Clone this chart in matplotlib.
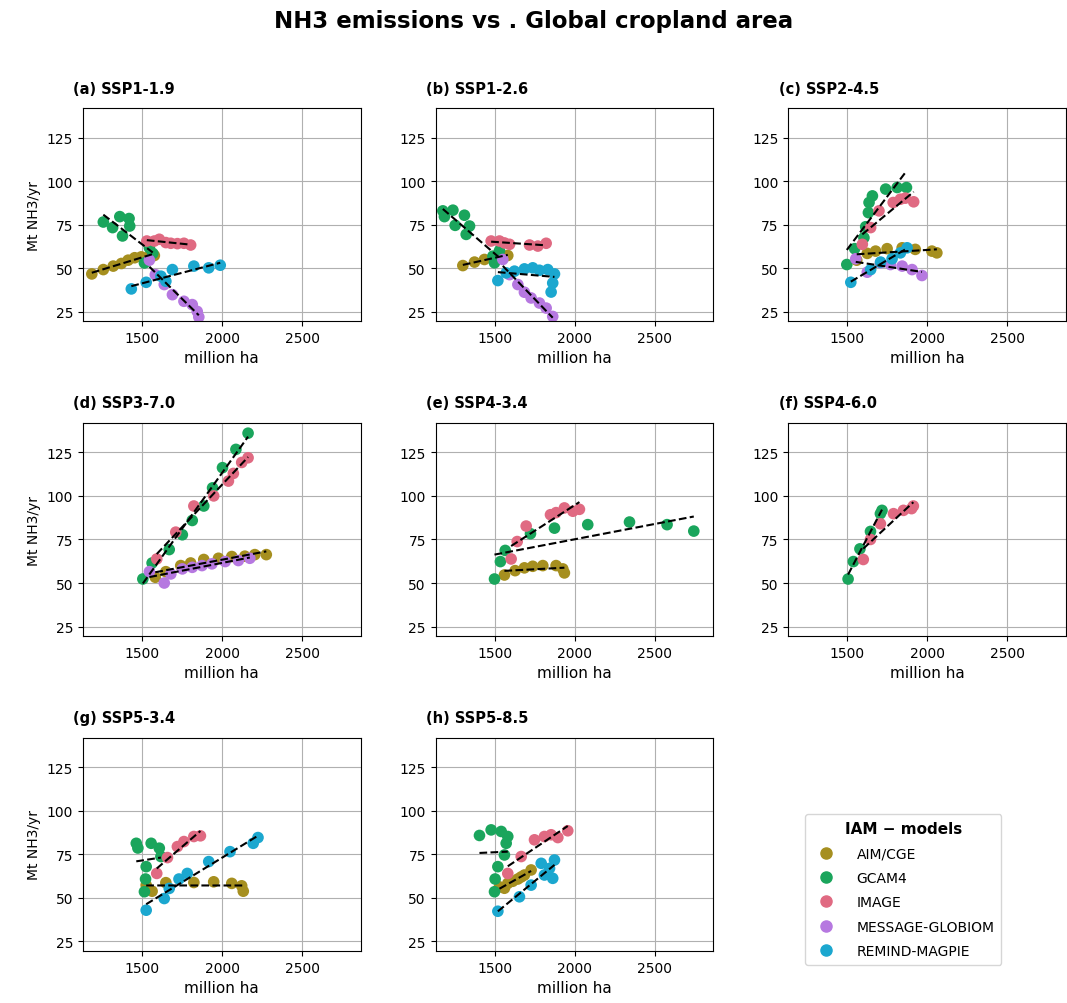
import numpy as np
import matplotlib
matplotlib.use("Agg")
import matplotlib.pyplot as plt
from matplotlib.lines import Line2D

models = ["AIM/CGE", "GCAM4", "IMAGE", "MESSAGE-GLOBIOM", "REMIND-MAGPIE"]
colors = ["#a68f1f", "#1aa55c", "#e06a82", "#b678e0", "#1ba7cf"]

panel_titles = ["(a) SSP1-1.9", "(b) SSP1-2.6", "(c) SSP2-4.5", "(d) SSP3-7.0",
                "(e) SSP4-3.4", "(f) SSP4-6.0", "(g) SSP5-3.4", "(h) SSP5-8.5"]

# cropland area (million ha), NH3 emissions (Mt/yr) per model
ssp119 = {
    "AIM/CGE": ([1185, 1257, 1319, 1370, 1412, 1453, 1494, 1545, 1576],
                [46.7, 49.2, 51.2, 52.7, 54.6, 56.0, 56.5, 56.9, 57.3]),
    "GCAM4": ([1257, 1315, 1360, 1418, 1422, 1377, 1514, 1566, 1545],
              [76.5, 73.3, 79.6, 78.5, 74.2, 68.5, 53.0, 58.5, 61.7]),
    "IMAGE": ([1529, 1576, 1607, 1648, 1679, 1720, 1761, 1803],
              [65.6, 65.6, 66.6, 64.7, 64.3, 64.1, 64.3, 63.3]),
    "MESSAGE-GLOBIOM": ([1545, 1582, 1638, 1689, 1761, 1813, 1844, 1854],
                        [54.6, 46.3, 40.6, 34.8, 31.0, 29.1, 25.2, 22.0]),
    "REMIND-MAGPIE": ([1432, 1525, 1617, 1648, 1689, 1823, 1916, 1988],
                      [38.1, 41.9, 45.4, 42.5, 49.2, 51.2, 50.2, 51.7]),
}
ssp126 = {
    "AIM/CGE": ([1300, 1373, 1435, 1498, 1550, 1581],
                [51.5, 53.5, 55.0, 56.3, 56.9, 57.3]),
    "GCAM4": ([1175, 1238, 1185, 1252, 1310, 1342, 1321, 1488, 1498, 1529],
              [82.9, 83.3, 79.6, 74.6, 80.4, 74.2, 69.4, 56.9, 53.1, 60.0]),
    "IMAGE": ([1477, 1529, 1560, 1592, 1717, 1769, 1821],
              [65.6, 65.6, 64.5, 63.7, 63.3, 62.7, 64.3]),
    "MESSAGE-GLOBIOM": ([1550, 1592, 1644, 1685, 1727, 1779, 1821, 1862],
                        [55.0, 46.3, 40.6, 36.2, 32.9, 30.0, 27.1, 22.3]),
    "REMIND-MAGPIE": ([1519, 1571, 1623, 1685, 1737, 1779, 1831, 1873, 1862, 1852],
                      [42.9, 47.3, 48.3, 49.6, 50.2, 48.8, 49.2, 46.7, 41.5, 36.3]),
}
ssp245 = {
    "AIM/CGE": ([1558, 1624, 1676, 1748, 1842, 1924, 2028, 2059],
                [54.6, 58.5, 59.8, 61.2, 61.7, 60.8, 59.8, 58.8]),
    "GCAM4": ([1496, 1545, 1603, 1614, 1631, 1635, 1656, 1739, 1811, 1869],
              [52.1, 61.2, 67.5, 73.8, 81.9, 87.7, 91.5, 95.4, 96.3, 96.3]),
    "IMAGE": ([1593, 1645, 1697, 1786, 1831, 1862, 1914],
              [63.7, 73.3, 82.9, 87.7, 89.6, 90.2, 88.1]),
    "MESSAGE-GLOBIOM": ([1552, 1624, 1707, 1769, 1842, 1904, 1966],
                        [55.4, 47.7, 53.1, 52.1, 51.2, 49.2, 45.8]),
    "REMIND-MAGPIE": ([1521, 1645, 1707, 1779, 1831, 1873],
                      [41.9, 49.2, 53.5, 55.4, 58.8, 61.7]),
}
ssp370 = {
    "AIM/CGE": ([1582, 1648, 1741, 1803, 1885, 1977, 2060, 2142, 2204, 2276],
                [53.3, 56.5, 60.0, 61.5, 63.5, 64.2, 65.2, 65.4, 66.3, 66.3]),
    "GCAM4": ([1504, 1562, 1669, 1751, 1813, 1885, 1940, 2002, 2086, 2162],
              [52.3, 61.5, 69.2, 77.7, 85.9, 94.2, 104.6, 116.2, 126.7, 136.0]),
    "IMAGE": ([1591, 1710, 1823, 1947, 2039, 2070, 2122, 2162],
              [63.8, 79.2, 94.2, 100.0, 108.5, 112.9, 119.2, 121.9]),
    "MESSAGE-GLOBIOM": ([1545, 1638, 1679, 1751, 1813, 1874, 1936, 2019, 2101, 2173],
                        [56.5, 50.0, 55.2, 58.1, 59.0, 60.0, 61.0, 62.3, 62.9, 64.2]),
}
ssp434 = {
    "AIM/CGE": ([1560, 1627, 1685, 1737, 1800, 1883, 1925, 1935],
                [54.6, 57.1, 58.7, 59.6, 60.0, 60.0, 58.1, 55.8]),
    "GCAM4": ([1498, 1535, 1565, 1723, 1873, 2081, 2342, 2577, 2744],
              [52.3, 62.3, 68.7, 78.3, 81.5, 83.5, 85.0, 83.5, 79.8]),
    "IMAGE": ([1602, 1640, 1696, 1848, 1883, 1935, 1988, 2029],
              [63.8, 73.8, 82.7, 89.2, 90.4, 93.1, 91.2, 92.3]),
}
ssp460 = {
    "GCAM4": ([1504, 1537, 1578, 1644, 1706, 1716],
              [52.3, 62.3, 69.6, 79.6, 89.8, 91.7]),
    "IMAGE": ([1599, 1644, 1706, 1788, 1850, 1901, 1912],
              [63.5, 75.0, 84.0, 89.8, 91.7, 92.7, 94.2]),
}
ssp534 = {
    "AIM/CGE": ([1525, 1562, 1648, 1823, 1947, 2060, 2122, 2132],
                [57.3, 53.8, 58.7, 58.8, 59.2, 58.3, 56.9, 53.8]),
    "GCAM4": ([1463, 1473, 1556, 1607, 1617, 1525, 1521, 1514],
              [81.3, 78.6, 81.3, 78.5, 73.7, 67.9, 60.8, 53.5]),
    "IMAGE": ([1591, 1658, 1720, 1761, 1823, 1864],
              [64.0, 73.1, 79.4, 82.3, 85.2, 85.6]),
    "REMIND-MAGPIE": ([1525, 1638, 1669, 1730, 1782, 1916, 2049, 2194, 2224],
                      [42.9, 49.6, 55.4, 60.8, 64.0, 70.8, 76.5, 81.3, 84.6]),
}
ssp585 = {
    "AIM/CGE": ([1529, 1560, 1581, 1612, 1644, 1665, 1685, 1727],
                [56.3, 55.5, 58.3, 59.5, 60.8, 62.0, 63.1, 66.0]),
    "GCAM4": ([1404, 1477, 1540, 1581, 1571, 1560, 1519, 1502, 1498],
              [85.8, 89.0, 88.1, 85.2, 81.3, 74.6, 67.9, 60.8, 53.5]),
    "IMAGE": ([1581, 1665, 1748, 1810, 1852, 1894, 1956],
              [64.0, 73.7, 83.3, 85.2, 86.2, 84.6, 88.5]),
    "REMIND-MAGPIE": ([1519, 1654, 1727, 1790, 1810, 1842, 1873, 1862],
                      [42.3, 50.6, 57.3, 69.8, 63.1, 66.9, 71.7, 61.2]),
}
scenarios = [ssp119, ssp126, ssp245, ssp370, ssp434, ssp460, ssp534, ssp585]

fig, axes = plt.subplots(3, 3, figsize=(10.67, 10.04), dpi=100)
fig.subplots_adjust(left=0.0778, right=0.999, top=0.891, bottom=0.052,
                    wspace=0.27, hspace=0.48)
fig.suptitle("NH3 emissions vs . Global cropland area", fontsize=16.5,
             fontweight="bold", y=0.99)

for i, ax in enumerate(axes.flat):
    if i >= len(scenarios):
        ax.axis("off")
        continue
    data = scenarios[i]
    for m, c in zip(models, colors):
        if m not in data:
            continue
        x = np.array(data[m][0], dtype=float)
        y = np.array(data[m][1], dtype=float)
        ax.scatter(x, y, s=70, color=c, edgecolor="none", zorder=2)
        k, b = np.polyfit(x, y, 1)
        xs = np.array([x.min(), x.max()])
        ax.plot(xs, k * xs + b, "--", color="black", lw=1.5, zorder=3)
    ax.set_xlim(1130, 2866)
    ax.set_ylim(19.6, 141.7)
    ax.set_xticks([1500, 2000, 2500])
    ax.set_yticks([25, 50, 75, 100, 125])
    ax.grid(True, color="#b0b0b0", lw=0.8)
    ax.set_axisbelow(True)
    ax.set_xlabel("million ha", fontsize=11)
    if i % 3 == 0:
        ax.set_ylabel("Mt NH3/yr", fontsize=10)
    ax.text(-0.035, 1.06, panel_titles[i], transform=ax.transAxes,
            fontsize=10.5, fontweight="bold", ha="left", va="bottom")

handles = [Line2D([], [], marker="o", ls="none", color=c, markersize=8)
           for c in colors]
fig.legend(handles, models, title="IAM \u2212 models", loc="upper left",
           bbox_to_anchor=(0.748, 0.195), fontsize=10, labelspacing=0.75,
           handletextpad=1.2, borderpad=0.5,
           title_fontproperties={"weight": "bold", "size": 11})

fig.savefig("out.png", dpi=100)
